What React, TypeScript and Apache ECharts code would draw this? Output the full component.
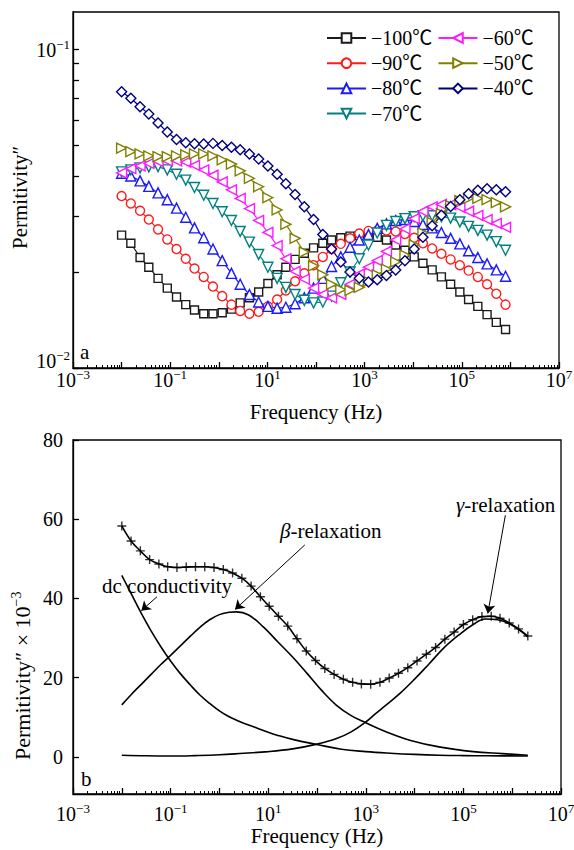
import React, { useEffect, useRef } from 'react';
import * as echarts from 'echarts';

const FONT = '"Liberation Serif", "Times New Roman", "Noto Sans CJK SC", serif';

// ---------- Panel (a): log10 frequency grid and permittivity'' (x 1e-3) ----------
const logFreqA = [-2.00, -1.81, -1.62, -1.44, -1.25, -1.06, -0.87, -0.68, -0.50, -0.31, -0.12,
  0.07, 0.26, 0.44, 0.63, 0.82, 1.01, 1.20, 1.38, 1.57, 1.76, 1.95,
  2.14, 2.32, 2.51, 2.70, 2.89, 3.08, 3.26, 3.45, 3.64, 3.83, 4.02,
  4.20, 4.39, 4.58, 4.77, 4.96, 5.14, 5.33, 5.52, 5.71, 5.90];

const eps100 = [26.1, 24.6, 22.2, 20.7, 19.1, 17.8, 16.7, 15.8, 15.2, 14.8, 14.8, 14.9, 15.3, 16.0, 16.6, 17.3, 18.4, 19.6, 20.7, 21.9, 22.9, 23.8, 24.6, 25.2, 25.6, 25.9, 26.0, 25.9, 25.7, 25.2, 24.3, 23.4, 22.3, 21.3, 20.3, 19.3, 18.3, 17.3, 16.4, 15.6, 14.7, 13.9, 13.2];
const eps90 = [34.6, 32.8, 31.1, 29.2, 27.2, 25.3, 23.6, 22.0, 20.5, 19.3, 18.0, 16.8, 15.8, 15.1, 14.8, 15.0, 15.6, 16.4, 17.5, 18.7, 19.8, 21.0, 22.3, 23.6, 24.5, 25.5, 26.4, 26.9, 27.0, 27.0, 26.8, 26.3, 25.6, 24.6, 23.7, 22.8, 21.9, 21.0, 20.2, 19.3, 18.3, 17.1, 15.8];
const eps80 = [40.8, 40.0, 38.6, 37.1, 35.4, 33.7, 31.7, 29.7, 27.5, 25.6, 23.6, 21.7, 19.8, 18.3, 17.0, 16.1, 15.6, 15.4, 15.5, 15.9, 16.6, 17.8, 19.1, 20.8, 22.3, 23.9, 25.2, 26.2, 27.4, 28.3, 29.0, 29.2, 28.8, 28.2, 27.5, 26.6, 25.5, 24.5, 23.3, 22.2, 21.2, 20.3, 19.4];
const eps70 = [41.2, 41.8, 42.4, 42.7, 42.8, 41.8, 40.5, 38.8, 36.8, 34.8, 32.8, 30.9, 29.0, 26.8, 24.8, 22.7, 20.7, 19.1, 17.9, 17.0, 16.3, 16.0, 16.1, 16.8, 18.5, 20.0, 22.0, 24.3, 26.5, 28.0, 28.8, 29.4, 29.8, 30.0, 30.0, 29.8, 29.5, 28.7, 27.8, 27.0, 26.1, 24.9, 23.4];
const eps60 = [40.9, 42.2, 43.0, 43.8, 44.4, 44.6, 44.6, 44.2, 43.2, 41.8, 40.2, 38.3, 36.2, 34.0, 31.6, 29.0, 26.6, 24.2, 22.0, 20.1, 19.0, 17.8, 17.0, 16.6, 17.0, 18.3, 19.7, 20.7, 21.7, 23.2, 25.2, 27.3, 29.4, 31.0, 32.0, 32.6, 32.5, 31.9, 31.0, 30.1, 29.2, 28.4, 27.6];
const eps50 = [48.9, 47.7, 46.9, 46.2, 46.0, 46.0, 46.2, 46.6, 46.9, 46.9, 46.2, 44.9, 43.6, 41.5, 39.3, 37.0, 34.2, 31.3, 28.2, 25.5, 23.1, 20.9, 19.6, 18.3, 17.6, 17.5, 17.9, 18.7, 19.6, 20.4, 21.5, 22.6, 24.3, 26.5, 28.6, 30.5, 32.3, 33.5, 34.0, 34.0, 33.7, 33.0, 32.0];
const eps40 = [73.5, 70.1, 65.9, 62.5, 58.6, 54.9, 52.0, 50.8, 50.5, 50.4, 50.6, 49.8, 49.2, 48.3, 46.9, 45.2, 43.0, 40.5, 37.8, 35.0, 32.0, 29.2, 26.2, 23.6, 21.5, 20.0, 19.1, 18.6, 18.9, 19.5, 20.3, 21.7, 23.6, 25.7, 27.9, 30.1, 32.1, 33.7, 35.2, 36.1, 36.5, 36.2, 35.7];

const tempNames = ['−100℃', '−90℃', '−80℃', '−70℃', '−60℃', '−50℃', '−40℃'];
const tempColors = ['#1a1a1a', '#ff1a1a', '#1a1aff', '#008080', '#ff1aff', '#808000', '#00007f'];
const tempSymbols = ['rect', 'circle', 'triangle', 'triangle', 'triangle', 'triangle', 'diamond'];
const tempRotates = [0, 0, 0, 180, 90, -90, 0];
const tempSizes = [8, 9, 10, 10, 10, 10, 10];
const tempValues = [eps100, eps90, eps80, eps70, eps60, eps50, eps40];

// ---------- Panel (b): -40 C data (x 1e-3) and fitted components ----------
const logFreqB = [-2.00, -1.81, -1.62, -1.43, -1.24, -1.06, -0.87, -0.68, -0.49, -0.30, -0.11,
  0.08, 0.27, 0.46, 0.65, 0.84, 1.02, 1.21, 1.40, 1.59, 1.78, 1.97, 2.16, 2.35, 2.54, 2.73,
  2.91, 3.10, 3.29, 3.48, 3.67, 3.86, 4.05, 4.24, 4.43, 4.62, 4.81, 5.00, 5.19, 5.38, 5.57,
  5.75, 5.94, 6.13, 6.32];
const epsB = [58.3, 54.5, 52.0, 49.8, 48.7, 48.0, 47.8, 47.9, 48.0, 48.0, 47.8, 47.3, 46.4, 45.1, 43.1, 40.4, 38.0, 35.5, 33.0, 29.8, 26.7, 24.3, 22.3, 20.8, 19.6, 18.8, 18.4, 18.3, 18.8, 19.9, 21.1, 22.5, 24.2, 25.9, 27.6, 29.7, 31.5, 33.4, 34.6, 35.4, 35.5, 35.0, 33.8, 32.3, 30.5];

const dcCurve = [[-2, 45.8], [-1.8, 41.0], [-1.6, 36.2], [-1.4, 31.8], [-1.2, 27.8], [-1.0, 24.2], [-0.8, 21.0], [-0.6, 18.2], [-0.4, 15.6], [-0.2, 13.5], [0, 11.6], [0.2, 10.1], [0.4, 9.0], [0.6, 8.0], [0.8, 7.1], [1.0, 6.2], [1.2, 5.4], [1.5, 4.4], [2.0, 3.1], [2.5, 1.9], [3.0, 1.3], [3.5, 0.9], [4.0, 0.6], [4.5, 0.4], [5.0, 0.3], [5.5, 0.25], [6.32, 0.2]];
const betaCurve = [[-2, 13.1], [-1.8, 15.8], [-1.6, 18.3], [-1.4, 20.8], [-1.2, 23.3], [-1.0, 25.6], [-0.8, 28.0], [-0.6, 30.4], [-0.4, 32.7], [-0.2, 34.6], [0, 35.9], [0.2, 36.5], [0.35, 36.6], [0.6, 35.8], [0.9, 32.8], [1.2, 29.0], [1.5, 25.2], [1.8, 21.0], [2.1, 16.7], [2.4, 13.0], [2.7, 10.4], [3.0, 8.6], [3.4, 6.4], [3.9, 4.2], [4.5, 2.5], [5.2, 1.3], [5.8, 0.8], [6.32, 0.4]];
const gammaCurve = [[-2, 0.4], [-1.5, 0.25], [-1, 0.2], [-0.5, 0.3], [0, 0.5], [0.5, 0.9], [1, 1.3], [1.5, 2.0], [2.0, 3.2], [2.4, 4.6], [2.7, 6.3], [3.0, 8.8], [3.2, 10.9], [3.4, 12.9], [3.7, 16.0], [4.0, 19.6], [4.3, 23.5], [4.6, 27.5], [4.9, 30.7], [5.2, 33.4], [5.45, 34.8], [5.7, 34.6], [6.0, 33.2], [6.32, 30.3]];

// ---------- axis ticks ----------
const decadesX = [-3, -2, -1, 0, 1, 2, 3, 4, 5, 6, 7];
const labelDecadesX = [-3, -1, 1, 3, 5, 7];
const minorMultipliers = [2, 3, 4, 5, 6, 7, 8, 9];
const decadesYA = [-2, -1];
const labelPosYA = [-1.975, -1];
const ticksYB = [0, 20, 40, 60, 80];

const supFmt = (v: number) => {
  const n = Math.round(v);
  return `{b|10}{s|${n < 0 ? '−' : ''}${Math.abs(n)}}`;
};
const supRich = {
  b: { fontSize: 20, fontFamily: FONT, color: '#000', lineHeight: 22, verticalAlign: 'bottom' },
  s: { fontSize: 13, fontFamily: FONT, color: '#000', lineHeight: 13, verticalAlign: 'top' },
};

export default function App() {
  const ref = useRef<HTMLDivElement>(null);
  useEffect(() => {
    if (!ref.current) return;
    const chart = echarts.init(ref.current, null, { renderer: 'svg' });
    const black = { color: '#000', width: 1.3 };
    const minorX = decadesX.slice(0, -1).flatMap((d) => minorMultipliers.map((m) => d + Math.log10(m)));
    const minorYA = minorMultipliers.map((m) => -2 + Math.log10(m));

    const xMain = (gi: number, margin: number, nameGap: number) => ({
      gridIndex: gi, type: 'value', min: -3, max: 7, position: 'bottom',
      splitLine: { show: false },
      axisLine: { show: true, onZero: false, lineStyle: black },
      axisTick: { show: true, inside: true, length: 6, customValues: decadesX, lineStyle: black },
      axisLabel: { show: true, customValues: labelDecadesX, formatter: supFmt, rich: supRich, margin },
      name: 'Frequency (Hz)', nameLocation: 'middle', nameGap,
      nameTextStyle: { fontFamily: FONT, fontSize: 21, color: '#000' },
    });
    const xMinor = (gi: number) => ({
      gridIndex: gi, type: 'value', min: -3, max: 7, position: 'bottom',
      splitLine: { show: false },
      axisLine: { show: false, onZero: false },
      axisTick: { show: true, inside: true, length: 3, customValues: minorX, lineStyle: { color: '#000', width: 1 } },
      axisLabel: { show: false },
    });

    const topSeries = tempValues.map((vals, k) => ({
      name: tempNames[k], type: 'line', xAxisIndex: 0, yAxisIndex: 0,
      data: logFreqA.map((x, i) => [x, Math.log10(vals[i] / 1000)]),
      symbol: tempSymbols[k], symbolSize: tempSizes[k], symbolRotate: tempRotates[k],
      showAllSymbol: true,
      lineStyle: { color: tempColors[k], width: 1.2 },
      itemStyle: { color: '#fff', borderColor: tempColors[k], borderWidth: 1.4 },
      emphasis: { disabled: true },
    }));

    const curve = (name: string, data: number[][], extra: any = {}) => ({
      name, type: 'line', xAxisIndex: 2, yAxisIndex: 1, data, smooth: 0.4,
      showSymbol: false, symbol: 'none',
      lineStyle: { color: '#000', width: 1.6 },
      emphasis: { disabled: true },
      ...extra,
    });
    const arrow = (a: number[], b: number[]) => ({
      silent: true, symbol: ['none', 'arrow'], symbolSize: 9,
      lineStyle: { color: '#000', width: 1, type: 'solid' },
      label: { show: false },
      data: [[{ coord: a }, { coord: b }]],
    });

    chart.setOption({
      animation: false,
      textStyle: { fontFamily: FONT },
      grid: [
        { left: 73, top: 12, width: 486, height: 356, show: true, borderColor: '#000', borderWidth: 1.3, outerBoundsMode: 'none', containLabel: false },
        { left: 73, top: 440, width: 488, height: 354, show: true, borderColor: '#000', borderWidth: 1.3, outerBoundsMode: 'none', containLabel: false },
      ],
      xAxis: [xMain(0, 0, 33), xMinor(0), xMain(1, 8, 31), xMinor(1)],
      yAxis: [
        {
          gridIndex: 0, type: 'value', min: -2, max: -0.884,
          splitLine: { show: false },
          axisLine: { show: true, onZero: false, lineStyle: black },
          axisTick: { show: true, inside: true, length: 6, customValues: [...decadesYA, ...minorYA], lineStyle: black },
          axisLabel: { show: true, customValues: labelPosYA, formatter: supFmt, rich: supRich, margin: 3 },
        },
        {
          gridIndex: 1, type: 'value', min: -9.4, max: 80,
          splitLine: { show: false },
          axisLine: { show: true, onZero: false, lineStyle: black },
          axisTick: { show: true, inside: true, length: 6, customValues: ticksYB, lineStyle: black },
          axisLabel: { show: true, customValues: ticksYB, margin: 10, fontSize: 20, fontFamily: FONT, color: '#000' },
        },
      ],
      legend: {
        data: tempNames, orient: 'vertical', left: 326, top: 28, height: 106, padding: 0,
        itemWidth: 39, itemHeight: 12, itemGap: 5.2,
        textStyle: { fontFamily: FONT, fontSize: 20, color: '#000' },
        selectedMode: false,
      },
      series: [
        ...topSeries,
        curve('fit', logFreqB.map((x, i) => [x, epsB[i]])),
        {
          name: 'data', type: 'scatter', xAxisIndex: 2, yAxisIndex: 1,
          data: logFreqB.map((x, i) => [x, epsB[i]]),
          symbol: 'path://M5,0L5,10M0,5L10,5', symbolSize: 9,
          itemStyle: { color: 'transparent', borderColor: '#000', borderWidth: 1.4 },
          emphasis: { disabled: true },
        },
        curve('dc', dcCurve, { markLine: arrow([-1.28, 40.4], [-1.6, 36.9]) }),
        curve('beta', betaCurve, { markLine: arrow([1.75, 53.5], [0.32, 37.2]) }),
        curve('gamma', gammaCurve, { markLine: arrow([5.86, 61.0], [5.5, 36.2]) }),
      ],
      graphic: [
        { type: 'text', x: 20, y: 249, rotation: Math.PI / 2, style: { text: 'Permitivity″', fontFamily: FONT, fontSize: 21, fill: '#000', align: 'left', verticalAlign: 'middle' } },
        {
          type: 'text', x: 21, y: 760, rotation: Math.PI / 2,
          style: {
            text: '{b|Permitivity″ × 10}{s|−3}', align: 'left', verticalAlign: 'middle',
            rich: {
              b: { fontSize: 22, fontFamily: FONT, fill: '#000', lineHeight: 24, verticalAlign: 'bottom' },
              s: { fontSize: 14, fontFamily: FONT, fill: '#000', lineHeight: 14, verticalAlign: 'top' },
            },
          },
        },
        { type: 'text', x: 80, y: 352, style: { text: 'a', fontFamily: FONT, fontSize: 21, fill: '#000', verticalAlign: 'middle' } },
        { type: 'text', x: 81, y: 779, style: { text: 'b', fontFamily: FONT, fontSize: 21, fill: '#000', verticalAlign: 'middle' } },
        { type: 'text', x: 102, y: 586, style: { text: 'dc conductivity', fontFamily: FONT, fontSize: 21, fill: '#000', verticalAlign: 'middle' } },
        {
          type: 'text', x: 280, y: 531,
          style: {
            text: '{i|β}{r|-relaxation}', verticalAlign: 'middle',
            rich: {
              i: { fontSize: 21, fontFamily: FONT, fontStyle: 'italic', fill: '#000' },
              r: { fontSize: 21, fontFamily: FONT, fill: '#000' },
            },
          },
        },
        {
          type: 'text', x: 456, y: 505,
          style: {
            text: '{i|γ}{r|-relaxation}', verticalAlign: 'middle',
            rich: {
              i: { fontSize: 21, fontFamily: FONT, fontStyle: 'italic', fill: '#000' },
              r: { fontSize: 21, fontFamily: FONT, fill: '#000' },
            },
          },
        },
      ],
    });
    return () => chart.dispose();
  }, []);
  return <div ref={ref} style={{ position: 'absolute', left: 0, top: 0, width: 574, height: 850, background: '#fff' }} />;
}
